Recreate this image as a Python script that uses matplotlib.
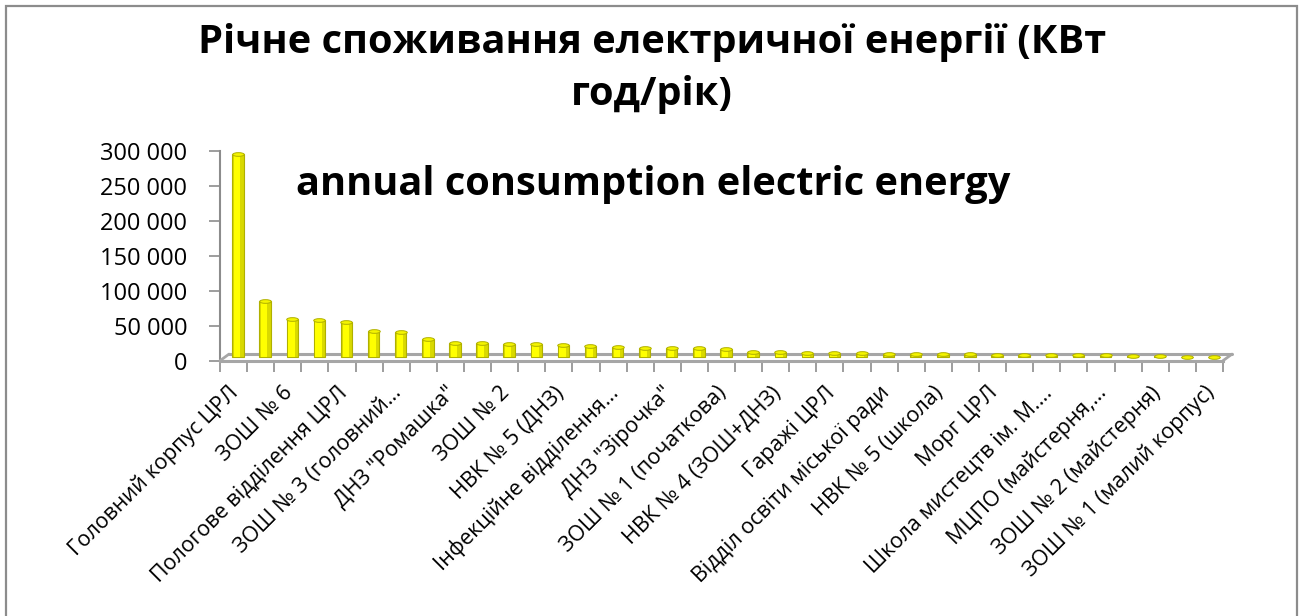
import numpy as np
import matplotlib
matplotlib.use("Agg")
import matplotlib.pyplot as plt
from matplotlib.path import Path
from matplotlib.transforms import Affine2D, ScaledTranslation
from matplotlib.patches import Rectangle
from matplotlib.ticker import FuncFormatter

plt.rcParams['font.family'] = ['Open Sans', 'DejaVu Sans']

# ---------------- data ----------------
categories = [
    "Головний корпус ЦРЛ", "", "ЗОШ № 6", "", "Пологове відділення ЦРЛ", "",
    "ЗОШ № 3 (головний…", "", "ДНЗ \"Ромашка\"", "", "ЗОШ № 2", "",
    "НВК № 5 (ДНЗ)", "", "Інфекційне відділення…", "", "ДНЗ \"Зірочка\"", "",
    "ЗОШ № 1 (початкова)", "", "НВК № 4 (ЗОШ+ДНЗ)", "", "Гаражі ЦРЛ", "",
    "Відділ освіти міської ради", "", "НВК № 5 (школа)", "", "Морг ЦРЛ", "",
    "Школа мистецтв ім. М.…", "", "МЦПО (майстерня,…", "", "ЗОШ № 2 (майстерня)", "",
    "ЗОШ № 1 (малий корпус)",
]
values = [
    291000, 81000, 55500, 53000, 50000, 38000, 37000, 26000, 21000, 21000,
    19500, 19000, 17500, 16000, 14500, 14000, 13500, 13000, 11500, 8000,
    7500, 6500, 6300, 6000, 5500, 5300, 4500, 4300, 4000, 3800,
    3600, 3400, 2800, 2400, 1500, 1000, 600,
]
yticks = [0, 50000, 100000, 150000, 200000, 250000, 300000]
title_lines = ["Річне споживання електричної енергії (КВт", "год/рік)",
               "annual consumption electric energy"]

# ---------------- figure ----------------
W, H = 1304, 616
fig = plt.figure(figsize=(W / 100, H / 100), dpi=100)

def px_axes(l, t, r, b):
    return [l / W, 1 - b / H, (r - l) / W, (b - t) / H]

ax = fig.add_axes(px_axes(220, 150.7, 1223, 360.7))
n = len(values)
x = np.arange(n)
ax.set_xlim(-0.5, n - 0.5)
ax.set_ylim(0, 300000)

grey = '#8c8c8c'
floor_c = '#a6a6a6'
# depth offsets (pseudo 3D)
bar_off = ax.transData + ScaledTranslation(4.5 / 100, 3.3 / 100, fig.dpi_scale_trans)
back_off = ax.transData + ScaledTranslation(9 / 100, 6.6 / 100, fig.dpi_scale_trans)

# floor
ax.plot([-0.5, n - 0.5], [0, 0], color=floor_c, lw=2.2, transform=back_off,
        clip_on=False, zorder=1, solid_capstyle='round')
for xe in (-0.5, n - 0.5):
    ax.annotate('', xy=(xe, 0), xycoords=back_off, xytext=(xe, 0), textcoords='data',
                arrowprops=dict(arrowstyle='-', color=floor_c, lw=2.0,
                                shrinkA=0, shrinkB=0), annotation_clip=False)

# bars (cylinders)
bw = 0.42
ax.bar(x, values, width=bw, color='#d9d900', edgecolor='#b0b000', linewidth=0.8,
       transform=bar_off, zorder=3)
ax.bar(x - 0.03, values, width=bw * 0.55, color='#ffff00', linewidth=0,
       transform=bar_off, zorder=4)
cap = Path.unit_circle().transformed(Affine2D().scale(1, 0.32))
ax.plot(x, values, linestyle='none', marker=cap, markersize=8.3,
        markerfacecolor='#f4f400', markeredgecolor='#b0b000', markeredgewidth=0.7,
        transform=bar_off, zorder=5, clip_on=False)

# axes styling
for s in ('top', 'right'):
    ax.spines[s].set_visible(False)
ax.spines['left'].set_color(grey)
ax.spines['left'].set_linewidth(1.5)
ax.spines['bottom'].set_color(floor_c)
ax.spines['bottom'].set_linewidth(2.2)
ax.set_yticks(yticks)
ax.yaxis.set_major_formatter(FuncFormatter(lambda v, p: f"{int(v):,}".replace(',', ' ')))
ax.tick_params(axis='y', length=8, width=1.2, color=grey, pad=15.5, labelsize=17,
               labelcolor='black')
ax.set_xticks(np.arange(-0.5, n, 1.0))
ax.set_xticklabels([])
ax.tick_params(axis='x', which='major', length=8, width=1.2, color=grey)
ax.set_xticks(x, minor=True)
ax.set_xticklabels(categories, minor=True, rotation=45, ha='right', va='center',
                   rotation_mode='anchor', fontsize=15.5)
ax.tick_params(axis='x', which='minor', length=0, pad=21)
for lab in ax.get_xticklabels(minor=True):
    lab.set_transform(lab.get_transform() + ScaledTranslation(2 / 100, 0, fig.dpi_scale_trans))
ax.patch.set_alpha(0)

# titles
fs_title = 28.6
fig.text(652 / W, 1 - 42 / H, title_lines[0], ha='center', va='center',
         fontsize=fs_title, fontweight='bold')
fig.text(652 / W, 1 - 95 / H, title_lines[1], ha='center', va='center',
         fontsize=fs_title, fontweight='bold')
fig.text(653 / W, 1 - 185 / H, title_lines[2], ha='center', va='center',
         fontsize=fs_title, fontweight='bold')

# chart border
fig.patches.append(Rectangle((6 / W, -0.05), (1297 - 6) / W, 1 - 6 / H + 0.05,
                             transform=fig.transFigure, fill=False,
                             edgecolor=grey, linewidth=1.6))

fig.savefig('out.png', dpi=100)
